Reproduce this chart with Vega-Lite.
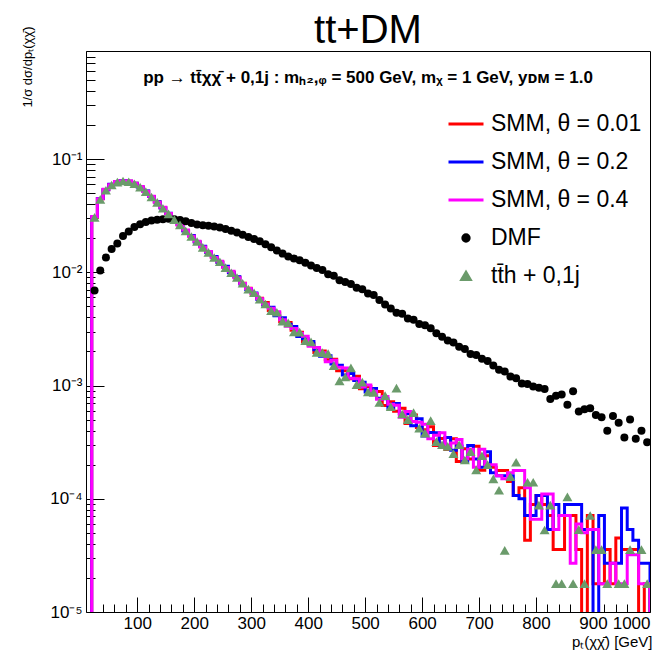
{
  "$schema": "https://vega.github.io/schema/vega-lite/v6.json",
  "width": 564,
  "height": 561,
  "autosize": {"type": "none"},
  "padding": {"left": 86, "top": 51, "right": 20, "bottom": 44},
  "background": "white",
  "title": {
    "text": "tt+DM",
    "subtitle": "pp → tt̄χχ̄ + 0,1j : mₕ₂,ᵩ = 500 GeV, mᵪ = 1 GeV, yᴅᴍ = 1.0",
    "anchor": "middle",
    "font": "Liberation Sans",
    "fontSize": 40,
    "fontWeight": "normal",
    "color": "black",
    "subtitleFont": "Liberation Sans",
    "subtitleFontSize": 17,
    "subtitleFontWeight": "bold",
    "subtitleColor": "black",
    "subtitlePadding": 19,
    "offset": -60
  },
  "config": {
    "view": {"stroke": "black", "strokeWidth": 1},
    "axis": {"domain": false, "grid": false, "labelFont": "Liberation Sans", "titleFont": "Liberation Sans", "labelColor": "black", "titleColor": "black", "tickColor": "black", "tickWidth": 1, "labelOverlap": false}
  },
  "resolve": {"axis": {"x": "independent", "y": "independent"}},
  "datasets": {
    "smm": [
      {"o":0,"x":20,"r":1e-7,"b":1e-7,"m":1e-7},
      {"o":1,"x":20,"r":0.0307,"b":0.0309,"m":0.0311},
      {"o":2,"x":30,"r":0.0447,"b":0.0449,"m":0.0446},
      {"o":3,"x":40,"r":0.0537,"b":0.0535,"m":0.054},
      {"o":4,"x":50,"r":0.0596,"b":0.0598,"m":0.0594},
      {"o":5,"x":60,"r":0.0631,"b":0.0629,"m":0.0633},
      {"o":6,"x":70,"r":0.0646,"b":0.0648,"m":0.0644},
      {"o":7,"x":80,"r":0.0638,"b":0.0636,"m":0.0641},
      {"o":8,"x":90,"r":0.061,"b":0.0612,"m":0.0608},
      {"o":9,"x":100,"r":0.0569,"b":0.0567,"m":0.0572},
      {"o":10,"x":110,"r":0.0519,"b":0.0522,"m":0.0517},
      {"o":11,"x":120,"r":0.0468,"b":0.0466,"m":0.047},
      {"o":12,"x":130,"r":0.0417,"b":0.042,"m":0.0415},
      {"o":13,"x":140,"r":0.0372,"b":0.037,"m":0.0375},
      {"o":14,"x":150,"r":0.0331,"b":0.0333,"m":0.033},
      {"o":15,"x":160,"r":0.0295,"b":0.0293,"m":0.0297},
      {"o":16,"x":170,"r":0.0263,"b":0.0265,"m":0.0262},
      {"o":17,"x":180,"r":0.0234,"b":0.0232,"m":0.0236},
      {"o":18,"x":190,"r":0.0209,"b":0.0211,"m":0.0208},
      {"o":19,"x":200,"r":0.0186,"b":0.0185,"m":0.0188},
      {"o":20,"x":210,"r":0.0168,"b":0.017,"m":0.0167},
      {"o":21,"x":220,"r":0.0151,"b":0.015,"m":0.0153},
      {"o":22,"x":230,"r":0.0136,"b":0.0138,"m":0.0135},
      {"o":23,"x":240,"r":0.0123,"b":0.0122,"m":0.0125},
      {"o":24,"x":250,"r":0.0111,"b":0.0113,"m":0.011},
      {"o":25,"x":260,"r":0.01,"b":0.0099,"m":0.0102},
      {"o":26,"x":270,"r":0.00902,"b":0.00915,"m":0.00895},
      {"o":27,"x":280,"r":0.008,"b":0.0079,"m":0.00795},
      {"o":28,"x":290,"r":0.00722,"b":0.0071,"m":0.0072},
      {"o":29,"x":300,"r":0.0064,"b":0.00655,"m":0.0065},
      {"o":30,"x":310,"r":0.0059,"b":0.00575,"m":0.00585},
      {"o":31,"x":320,"r":0.00541,"b":0.00515,"m":0.00525},
      {"o":32,"x":330,"r":0.00459,"b":0.00492,"m":0.00482},
      {"o":33,"x":340,"r":0.00436,"b":0.00414,"m":0.00448},
      {"o":34,"x":350,"r":0.00366,"b":0.00397,"m":0.00381},
      {"o":35,"x":360,"r":0.00361,"b":0.00347,"m":0.00333},
      {"o":36,"x":370,"r":0.00307,"b":0.00332,"m":0.00319},
      {"o":37,"x":380,"r":0.00296,"b":0.00271,"m":0.0029},
      {"o":38,"x":390,"r":0.00244,"b":0.00259,"m":0.00272},
      {"o":39,"x":400,"r":0.00236,"b":0.00245,"m":0.00222},
      {"o":40,"x":410,"r":0.00196,"b":0.00207,"m":0.00217},
      {"o":41,"x":420,"r":0.00202,"b":0.00181,"m":0.00195},
      {"o":42,"x":430,"r":0.00169,"b":0.00183,"m":0.00162},
      {"o":43,"x":440,"r":0.00171,"b":0.00155,"m":0.00167},
      {"o":44,"x":450,"r":0.00135,"b":0.00151,"m":0.00145},
      {"o":45,"x":460,"r":0.00135,"b":0.00124,"m":0.00143},
      {"o":46,"x":470,"r":0.00115,"b":0.00128,"m":0.00116},
      {"o":47,"x":480,"r":0.00121,"b":0.00111,"m":0.00115},
      {"o":48,"x":490,"r":0.000938,"b":0.00107,"m":0.000969},
      {"o":49,"x":500,"r":0.000982,"b":0.000878,"m":0.00101},
      {"o":50,"x":510,"r":0.000845,"b":0.000941,"m":0.000888},
      {"o":51,"x":520,"r":0.000884,"b":0.000772,"m":0.000756},
      {"o":52,"x":530,"r":0.000667,"b":0.000763,"m":0.0008},
      {"o":53,"x":540,"r":0.000718,"b":0.000629,"m":0.000684},
      {"o":54,"x":550,"r":0.000593,"b":0.000694,"m":0.000669},
      {"o":55,"x":560,"r":0.000629,"b":0.000565,"m":0.000524},
      {"o":56,"x":570,"r":0.000462,"b":0.000564,"m":0.000591},
      {"o":57,"x":580,"r":0.000549,"b":0.000441,"m":0.00048},
      {"o":58,"x":590,"r":0.000425,"b":0.00051,"m":0.000474},
      {"o":59,"x":600,"r":0.000407,"b":0.000358,"m":0.000456},
      {"o":60,"x":610,"r":0.000432,"b":0.000384,"m":0.000338},
      {"o":61,"x":620,"r":0.000295,"b":0.000382,"m":0.000364},
      {"o":62,"x":630,"r":0.00034,"b":0.000298,"m":0.000382},
      {"o":63,"x":640,"r":0.000272,"b":0.000347,"m":0.000287},
      {"o":64,"x":650,"r":0.000338,"b":0.000268,"m":0.00031},
      {"o":65,"x":660,"r":0.000213,"b":0.000293,"m":0.000333},
      {"o":66,"x":670,"r":0.000276,"b":0.000213,"m":0.000226},
      {"o":67,"x":680,"r":0.000225,"b":0.000296,"m":0.000273},
      {"o":68,"x":690,"r":0.000291,"b":0.000224,"m":0.00019},
      {"o":69,"x":700,"r":0.000179,"b":0.00019,"m":0.000274},
      {"o":70,"x":710,"r":0.00024,"b":0.00026,"m":0.0002},
      {"o":71,"x":720,"r":0.00019,"b":0.00017,"m":0.0002},
      {"o":72,"x":730,"r":0.000178,"b":0.00016,"m":0.00016},
      {"o":73,"x":740,"r":0.000178,"b":0.00016,"m":0.00015},
      {"o":74,"x":750,"r":0.000142,"b":0.00016,"m":0.00017},
      {"o":75,"x":760,"r":0.000107,"b":0.000107,"m":0.000178},
      {"o":76,"x":770,"r":0.000125,"b":0.0001,"m":0.000178},
      {"o":77,"x":780,"r":0.000043,"b":0.0000712,"m":0.000125},
      {"o":78,"x":790,"r":0.000089,"b":0.0000712,"m":0.000066},
      {"o":79,"x":800,"r":0.000107,"b":0.000107,"m":0.000066},
      {"o":80,"x":810,"r":0.000089,"b":0.000107,"m":0.00011},
      {"o":81,"x":820,"r":0.0000712,"b":0.0000534,"m":0.00011},
      {"o":82,"x":830,"r":0.0000356,"b":0.000089,"m":0.0000534},
      {"o":83,"x":840,"r":0.0000356,"b":0.0000712,"m":0.0000712},
      {"o":84,"x":850,"r":0.0000712,"b":0.000089,"m":0.0000712},
      {"o":85,"x":860,"r":0.0000712,"b":0.000089,"m":0.000027},
      {"o":86,"x":870,"r":0.0000356,"b":0.000089,"m":0.00006},
      {"o":87,"x":880,"r":1e-7,"b":0.0000534,"m":0.00005},
      {"o":88,"x":890,"r":0.0000712,"b":0.0000534,"m":0.0000534},
      {"o":89,"x":900,"r":0.0000178,"b":1e-7,"m":0.0000534},
      {"o":90,"x":910,"r":0.0000178,"b":0.0000712,"m":0.0000178},
      {"o":91,"x":920,"r":0.0000356,"b":0.000027,"m":0.0000178},
      {"o":92,"x":930,"r":0.0000178,"b":0.000027,"m":0.000027},
      {"o":93,"x":940,"r":0.000045,"b":0.000027,"m":0.0000178},
      {"o":94,"x":950,"r":0.0000356,"b":0.000083,"m":0.0000178},
      {"o":95,"x":960,"r":0.0000356,"b":0.0000534,"m":0.000032},
      {"o":96,"x":970,"r":0.0000356,"b":0.000043,"m":0.000032},
      {"o":97,"x":980,"r":1e-7,"b":0.000027,"m":0.0000178},
      {"o":98,"x":990,"r":0.0000178,"b":0.000027,"m":0.0000178},
      {"o":99,"x":1000,"r":0.0000178,"b":0.000027,"m":0.0000178},
      {"o":100,"x":1000,"r":1e-7,"b":1e-7,"m":1e-7}
    ],
    "dmf": [
      {"x":25,"v":0.00692},{"x":35,"v":0.01035},{"x":45,"v":0.01349},{"x":55,"v":0.01603},{"x":65,"v":0.01799},
      {"x":75,"v":0.02089},{"x":85,"v":0.02291},{"x":95,"v":0.02512},{"x":105,"v":0.02661},{"x":115,"v":0.02786},
      {"x":125,"v":0.02864},{"x":135,"v":0.02911},{"x":145,"v":0.02938},{"x":155,"v":0.02965},{"x":165,"v":0.02938},
      {"x":175,"v":0.02897},{"x":185,"v":0.02818},{"x":195,"v":0.02723},{"x":205,"v":0.02642},{"x":215,"v":0.02606},
      {"x":225,"v":0.0257},{"x":235,"v":0.02541},{"x":245,"v":0.02483},{"x":255,"v":0.0241},{"x":265,"v":0.02333},
      {"x":275,"v":0.02249},{"x":285,"v":0.02148},{"x":295,"v":0.02051},{"x":305,"v":0.01972},{"x":315,"v":0.01879},
      {"x":325,"v":0.0177},{"x":335,"v":0.0166},{"x":345,"v":0.01556},{"x":355,"v":0.01462},{"x":365,"v":0.0138},
      {"x":375,"v":0.01324},{"x":385,"v":0.0128},{"x":395,"v":0.01216},{"x":405,"v":0.01148},{"x":415,"v":0.01091},
      {"x":425,"v":0.0105},{"x":435,"v":0.0096},{"x":445,"v":0.0093},{"x":455,"v":0.0085},{"x":465,"v":0.0082},
      {"x":475,"v":0.0079},{"x":485,"v":0.0073},{"x":495,"v":0.0071},{"x":505,"v":0.0065},{"x":515,"v":0.0063},
      {"x":525,"v":0.0057},{"x":535,"v":0.0052},{"x":545,"v":0.0048},{"x":555,"v":0.0044},{"x":565,"v":0.0043},
      {"x":575,"v":0.0039},{"x":585,"v":0.0038},{"x":595,"v":0.0035},{"x":605,"v":0.0034},{"x":615,"v":0.0032},
      {"x":625,"v":0.0029},{"x":635,"v":0.0027},{"x":645,"v":0.0025},{"x":655,"v":0.0024},{"x":665,"v":0.0022},
      {"x":675,"v":0.0021},{"x":685,"v":0.0019},{"x":695,"v":0.00186},{"x":705,"v":0.00172},{"x":715,"v":0.00165},
      {"x":725,"v":0.0015},{"x":735,"v":0.00138},{"x":745,"v":0.00133},{"x":755,"v":0.0012},{"x":765,"v":0.00116},
      {"x":775,"v":0.00104},{"x":785,"v":0.00103},{"x":795,"v":0.00098},{"x":805,"v":0.000955},{"x":815,"v":0.000933},
      {"x":825,"v":0.000759},{"x":835,"v":0.000813},{"x":845,"v":0.000832},{"x":855,"v":0.000676},{"x":865,"v":0.000891},
      {"x":875,"v":0.000589},{"x":885,"v":0.000617},{"x":895,"v":0.000631},{"x":905,"v":0.00055},{"x":915,"v":0.000525},
      {"x":925,"v":0.000398},{"x":935,"v":0.000537},{"x":945,"v":0.000468},{"x":955,"v":0.000347},{"x":965,"v":0.000501},
      {"x":975,"v":0.000339},{"x":985,"v":0.000398},{"x":995,"v":0.000316}
    ],
    "tth": [
      {"x":25,"v":0.0305},{"x":35,"v":0.044},{"x":45,"v":0.053},{"x":55,"v":0.059},{"x":65,"v":0.0625},
      {"x":75,"v":0.064},{"x":85,"v":0.063},{"x":95,"v":0.0605},{"x":105,"v":0.0565},{"x":115,"v":0.0515},
      {"x":125,"v":0.0462},{"x":135,"v":0.0415},{"x":145,"v":0.0368},{"x":155,"v":0.0328},{"x":165,"v":0.0292},
      {"x":175,"v":0.0262},{"x":185,"v":0.0232},{"x":195,"v":0.0207},{"x":205,"v":0.0187},{"x":215,"v":0.0166},
      {"x":225,"v":0.015},{"x":235,"v":0.0135},{"x":245,"v":0.0124},{"x":255,"v":0.011},{"x":265,"v":0.0099},
      {"x":275,"v":0.009},{"x":285,"v":0.008},{"x":295,"v":0.0071},{"x":305,"v":0.0066},{"x":315,"v":0.0058},
      {"x":325,"v":0.00525},{"x":335,"v":0.00459},{"x":345,"v":0.00444},{"x":355,"v":0.0037},{"x":365,"v":0.00357},
      {"x":375,"v":0.00297},{"x":385,"v":0.00296},{"x":395,"v":0.00249},{"x":405,"v":0.00243},{"x":415,"v":0.00196},
      {"x":425,"v":0.00195},{"x":435,"v":0.00191},{"x":445,"v":0.0015},{"x":455,"v":0.0011},{"x":465,"v":0.00119},
      {"x":475,"v":0.00143},{"x":485,"v":0.00102},{"x":495,"v":0.00107},{"x":505,"v":0.000878},{"x":515,"v":0.000871},
      {"x":525,"v":0.000708},{"x":535,"v":0.000815},{"x":545,"v":0.00065},{"x":555,"v":0.00095},{"x":565,"v":0.00056},
      {"x":575,"v":0.0005},{"x":585,"v":0.000577},{"x":595,"v":0.00042},{"x":605,"v":0.00038},{"x":615,"v":0.00049},
      {"x":625,"v":0.00032},{"x":635,"v":0.0003},{"x":645,"v":0.00029},{"x":655,"v":0.00025},{"x":665,"v":0.0003},
      {"x":675,"v":0.00022},{"x":685,"v":0.00026},{"x":695,"v":0.00018},{"x":705,"v":0.00024},{"x":715,"v":0.0002},
      {"x":725,"v":0.00015},{"x":735,"v":0.000119},{"x":745,"v":0.000035},{"x":755,"v":0.000157},{"x":765,"v":0.00021},
      {"x":785,"v":0.00014},{"x":795,"v":0.00014},{"x":805,"v":0.000088},{"x":815,"v":0.000053},{"x":825,"v":0.000088},
      {"x":835,"v":0.0000178},{"x":845,"v":0.0000178},{"x":855,"v":0.000104},{"x":865,"v":0.0000178},{"x":875,"v":0.0000534},
      {"x":885,"v":0.0000178},{"x":895,"v":0.0000712},{"x":905,"v":0.0000356},{"x":915,"v":0.0000356},{"x":925,"v":0.0000178},
      {"x":945,"v":0.0000178},{"x":955,"v":0.0000178},{"x":965,"v":0.0000356},{"x":985,"v":0.0000356},{"x":995,"v":0.0000178}
    ]
  },
  "layer": [
    {
      "data": {"name": "smm"},
      "transform": [{"fold": ["r", "b", "m"], "as": ["s", "v"]}],
      "mark": {"type": "line", "interpolate": "step-after", "strokeWidth": 3, "clip": true},
      "encoding": {
        "x": {
          "field": "x", "type": "quantitative",
          "scale": {"domain": [10, 1000], "nice": false, "zero": false},
          "axis": {
            "orient": "bottom",
            "title": "pₜ(χχ̄) [GeV]",
            "titleFontSize": 15, "titleFontWeight": "normal",
            "titleAnchor": "end", "titleAlign": "right", "titleX": 566, "titleY": 34, "titleBaseline": "alphabetic",
            "values": [100,200,300,400,500,600,700,800,900,1000],
            "format": "d",
            "labelFontSize": 17, "labelPadding": 18,
            "tickSize": -15
          }
        },
        "y": {
          "field": "v", "type": "quantitative",
          "scale": {"type": "log", "domain": [0.00001, 0.9], "nice": false},
          "axis": {
            "orient": "left",
            "title": "1/σ dσ/dpₜ(χχ̄)",
            "titleFontSize": 13, "titleFontWeight": "normal",
            "titleAngle": 270, "titleAlign": "right", "titleX": -52, "titleY": -25, "titleBaseline": "bottom",
            "values": [0.00001,0.0001,0.001,0.01,0.1],
            "labelExpr": "datum.value == 0.00001 ? '10⁻⁵' : datum.value == 0.0001 ? '10⁻⁴' : datum.value == 0.001 ? '10⁻³' : datum.value == 0.01 ? '10⁻²' : '10⁻¹'",
            "labelFontSize": 17, "labelPadding": 22,
            "tickSize": -18
          }
        },
        "order": {"field": "o", "type": "quantitative"},
        "color": {
          "field": "s", "type": "nominal",
          "scale": {"domain": ["r", "b", "m", "DMF", "tth"], "range": ["#ff0000", "#0000ff", "#ff00ff", "#000000", "#6b9b6b"]},
          "legend": {
            "orient": "none", "legendX": 361, "legendY": 54,
            "title": null,
            "labelFont": "Liberation Sans", "labelFontSize": 23, "labelColor": "black", "labelLimit": 300,
            "symbolSize": 1225, "symbolStrokeWidth": 3, "labelOffset": 6, "rowPadding": 7,
            "labelExpr": "datum.value == 'r' ? 'SMM, θ = 0.01' : datum.value == 'b' ? 'SMM, θ = 0.2' : datum.value == 'm' ? 'SMM, θ = 0.4' : datum.value == 'DMF' ? 'DMF' : 'tt̄h + 0,1j'",
            "encode": {
              "symbols": {
                "update": {
                  "shape": {"signal": "datum.value == 'DMF' ? 'circle' : datum.value == 'tth' ? 'triangle-up' : 'stroke'"},
                  "size": {"signal": "datum.value == 'DMF' ? 40 : datum.value == 'tth' ? 70 : 1225"},
                  "fill": {"signal": "(datum.value == 'DMF' || datum.value == 'tth') ? scale('color', datum.value) : 'transparent'"},
                  "stroke": {"signal": "(datum.value == 'DMF' || datum.value == 'tth') ? 'transparent' : scale('color', datum.value)"},
                  "strokeWidth": {"value": 3},
                  "opacity": {"value": 1}
                }
              }
            }
          }
        }
      }
    },
    {
      "data": {"name": "dmf"},
      "mark": {"type": "point", "shape": "circle", "filled": true, "size": 64, "opacity": 1, "clip": true},
      "encoding": {
        "x": {
          "field": "x", "type": "quantitative",
          "axis": {
            "orient": "bottom", "title": null, "labels": false, "tickSize": -8,
            "values": [20,40,60,80,120,140,160,180,220,240,260,280,320,340,360,380,420,440,460,480,520,540,560,580,620,640,660,680,720,740,760,780,820,840,860,880,920,940,960,980]
          }
        },
        "y": {
          "field": "v", "type": "quantitative",
          "axis": {
            "orient": "left", "title": null, "labels": false, "tickSize": -9,
            "values": [0.00002,0.00003,0.00004,0.00005,0.00006,0.00007,0.00008,0.00009,0.0002,0.0003,0.0004,0.0005,0.0006,0.0007,0.0008,0.0009,0.002,0.003,0.004,0.005,0.006,0.007,0.008,0.009,0.02,0.03,0.04,0.05,0.06,0.07,0.08,0.09,0.2,0.3,0.4,0.5,0.6,0.7,0.8,0.9]
          }
        },
        "color": {"datum": "DMF"}
      }
    },
    {
      "data": {"name": "tth"},
      "mark": {"type": "point", "shape": "triangle-up", "filled": true, "size": 100, "opacity": 1, "clip": true},
      "encoding": {
        "x": {"field": "x", "type": "quantitative", "axis": null},
        "y": {"field": "v", "type": "quantitative", "axis": null},
        "color": {"datum": "tth"}
      }
    }
  ]
}
